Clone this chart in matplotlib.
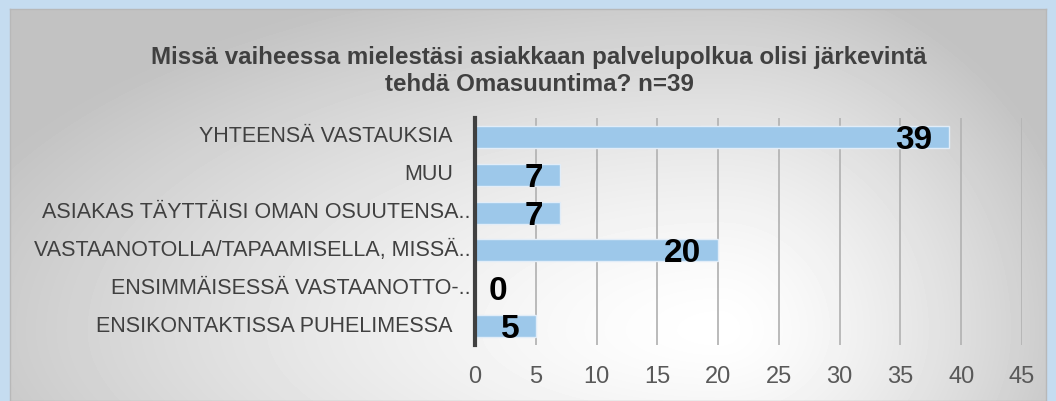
import numpy as np
import matplotlib
matplotlib.use("Agg")
import matplotlib.pyplot as plt

# data (bottom to top as drawn)
categories = [
    "ENSIKONTAKTISSA PUHELIMESSA",
    "ENSIMMÄISESSÄ VASTAANOTTO-..",
    "VASTAANOTOLLA/TAPAAMISELLA, MISSÄ..",
    "ASIAKAS TÄYTTÄISI OMAN OSUUTENSA..",
    "MUU",
    "YHTEENSÄ VASTAUKSIA",
]
values = [5, 0, 20, 7, 7, 39]
xticks = [0, 5, 10, 15, 20, 25, 30, 35, 40, 45]
title = "Missä vaiheessa mielestäsi asiakkaan palvelupolkua olisi järkevintä\ntehdä Omasuuntima? n=39"

plt.rcParams['font.family'] = ['Liberation Sans', 'DejaVu Sans']

W, H = 1056, 401
fig = plt.figure(figsize=(W / 100, H / 100), dpi=100)
fig.patch.set_facecolor('#c5dcf0')

# grey-to-white gradient panel
bg = fig.add_axes([10 / W, 0, 1036 / W, 392 / H], zorder=-10)
px, py = np.meshgrid(np.arange(10, 1046), np.arange(9, 401))
cx, cy = 720, 330
dx = np.where(px < cx, (px - cx) / (cx - 10), (px - cx) / (1046 - cx))
dy = np.where(py < cy, (py - cy) / (cy - 9), (py - cy) / 250)
r = np.clip(np.sqrt(dx ** 2 + dy ** 2) / 1.15, 0, 1)
shade = 1 - 0.24 * r ** 1.4
bg.imshow(shade, cmap='gray', vmin=0, vmax=1, aspect='auto', interpolation='bilinear')
bg.set_xticks([])
bg.set_yticks([])
for s in bg.spines.values():
    s.set_color('#b8b8b8')
    s.set_linewidth(1)

ax = fig.add_axes([475 / W, 1 - 345 / H, 547 / W, 227 / H])
ax.set_facecolor('none')

y = np.arange(len(categories))
ax.barh(y, values, height=0.58, color='#9dc8ea', edgecolor='#e2edf8', linewidth=1, zorder=3)

for yi, v in zip(y, values):
    if v > 0:
        ax.annotate(str(v), (v, yi), xytext=(-12, -2.5), textcoords='offset points',
                    ha='right', va='center', fontsize=24, fontweight='bold', color='black', zorder=4)
    else:
        ax.annotate(str(v), (v, yi), xytext=(10, -2.5), textcoords='offset points',
                    ha='left', va='center', fontsize=24, fontweight='bold', color='black', zorder=4)

# category labels (truncated ones stick out a little further, like Excel)
for yi, lab in zip(y, categories):
    off = -3.5 if lab.endswith('..') else -16
    ax.annotate(lab, (0, yi), xytext=(off, 0), textcoords='offset points',
                ha='right', va='center', fontsize=15.5, color='#404040')

ax.set_xlim(0, 45)
ax.set_ylim(-0.5, len(categories) - 0.5)
ax.set_xticks(xticks)
ax.set_yticks([])
ax.tick_params(axis='x', length=0, pad=15, labelsize=17, labelcolor='#595959')
ax.grid(axis='x', color='#b5b5b5', linewidth=1.3, zorder=0)
for side in ['top', 'right', 'bottom']:
    ax.spines[side].set_visible(False)
ax.spines['left'].set_color('#404040')
ax.spines['left'].set_linewidth(3)
ax.spines['left'].set_zorder(5)

fig.text(539 / W, 1 - 71 / H, title, ha='center', va='center', fontsize=17.4,
         fontweight='bold', color='#404040', linespacing=1.2)

fig.savefig('out.png', dpi=100, facecolor=fig.get_facecolor())
